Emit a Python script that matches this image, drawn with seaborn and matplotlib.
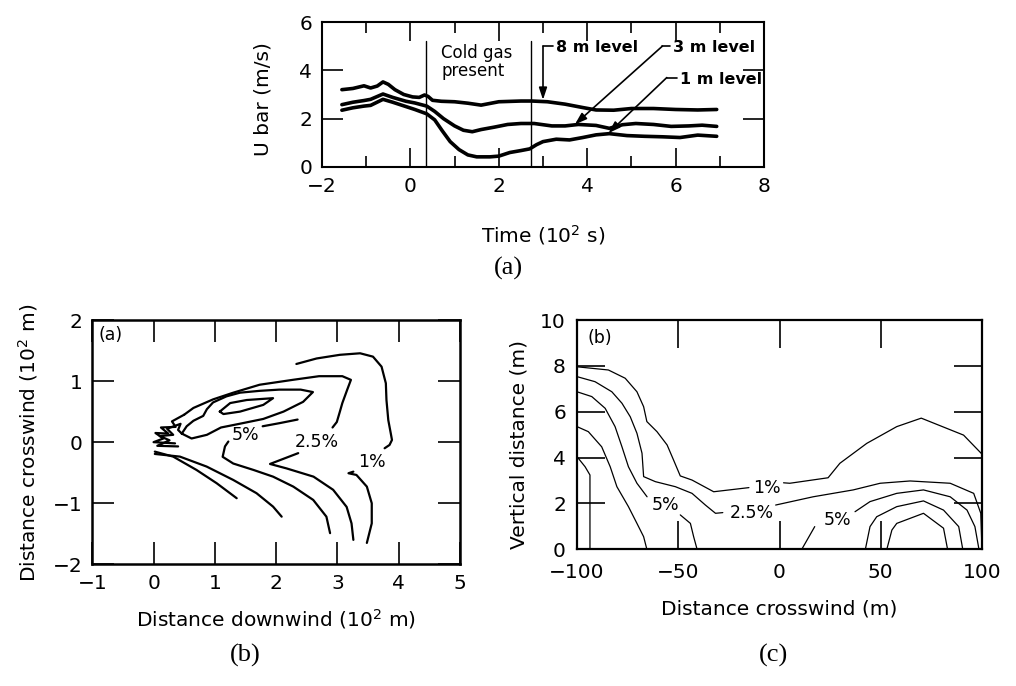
import numpy as np
import pandas as pd
import matplotlib
matplotlib.use("Agg")
import matplotlib.pyplot as plt
import seaborn as sns

# ---------------- data: panel (a) wind speed time series ----------------
t8 = [-1.55, -1.3, -1.05, -0.9, -0.75, -0.62, -0.5, -0.35, -0.15, 0.05, 0.2, 0.32, 0.4, 0.5, 0.7, 1.0,
      1.3, 1.6, 2.0, 2.5, 2.75, 3.1, 3.5, 3.9, 4.2, 4.6, 5.0, 5.5, 6.0, 6.5, 6.93]
u8 = [3.2, 3.25, 3.36, 3.27, 3.35, 3.52, 3.42, 3.2, 3.0, 2.9, 2.88, 2.98, 2.92, 2.76, 2.72, 2.7,
      2.64, 2.56, 2.7, 2.73, 2.73, 2.7, 2.6, 2.46, 2.36, 2.35, 2.42, 2.42, 2.38, 2.36, 2.38]
t3 = [-1.55, -1.3, -1.05, -0.9, -0.62, -0.4, -0.1, 0.1, 0.37, 0.55, 0.75, 1.0, 1.2, 1.4, 1.6, 1.9,
      2.2, 2.5, 2.8, 3.2, 3.5, 3.8, 4.2, 4.5, 4.8, 5.1, 5.5, 5.9, 6.3, 6.6, 6.93]
u3 = [2.58, 2.68, 2.75, 2.8, 3.02, 2.88, 2.72, 2.65, 2.52, 2.3, 2.0, 1.7, 1.52, 1.46, 1.55, 1.65,
      1.76, 1.8, 1.8, 1.7, 1.7, 1.76, 1.72, 1.6, 1.75, 1.8, 1.76, 1.68, 1.7, 1.73, 1.68]
t1 = [-1.55, -1.3, -1.05, -0.9, -0.62, -0.4, -0.1, 0.1, 0.37, 0.55, 0.72, 0.9, 1.1, 1.3, 1.5, 1.8,
      2.0, 2.25, 2.5, 2.7, 2.85, 3.0, 3.3, 3.6, 3.9, 4.2, 4.5, 4.9, 5.3, 5.7, 6.1, 6.5, 6.93]
u1 = [2.35, 2.45, 2.52, 2.55, 2.8, 2.68, 2.5, 2.38, 2.2, 1.95, 1.5, 1.05, 0.72, 0.5, 0.42, 0.42,
      0.45, 0.6, 0.68, 0.75, 0.92, 1.05, 1.15, 1.12, 1.22, 1.33, 1.38, 1.3, 1.27, 1.25, 1.22, 1.32, 1.27]
gas_start, gas_end, gas_top = 0.35, 2.72, 5.2
level_names = ["8 m level", "3 m level", "1 m level"]
level_text_xy = [(3.3, 4.75), (5.95, 4.75), (6.1, 3.45)]
level_hook = [(3.23, 3.0, 5.0), (5.87, 5.7, 5.0), (6.03, 5.8, 3.7)]
level_tip = [(3.0, 2.78), (3.72, 1.76), (4.48, 1.4)]

# ---------------- data: panel (b) plan-view concentration contours ----------------
plan = {
    "core": ([1.08, 1.25, 1.52, 1.95, 1.79, 1.41, 1.14, 1.08],
             [0.50, 0.64, 0.69, 0.72, 0.61, 0.50, 0.46, 0.50]),
    "loop5": ([0.46, 0.62, 0.87, 1.1, 1.4, 1.79, 2.12, 2.44, 2.6, 2.4, 2.05, 1.73, 1.41, 1.19, 0.97, 0.87,
               0.81, 0.65, 0.54, 0.46],
              [0.14, 0.06, 0.12, 0.24, 0.30, 0.38, 0.50, 0.66, 0.82, 0.86, 0.86, 0.84, 0.81, 0.75, 0.65, 0.54,
               0.43, 0.35, 0.26, 0.14]),
    "up25": ([0.5, 0.65, 0.97, 1.30, 1.73, 2.27, 2.70, 3.08, 3.22, 3.16, 3.08, 3.04, 2.99, 2.92],
             [0.45, 0.56, 0.70, 0.81, 0.94, 1.02, 1.08, 1.08, 1.02, 0.86, 0.64, 0.50, 0.33, 0.24]),
    "mid25": ([1.78, 2.05, 2.35], [0.26, 0.31, 0.37]),
    "up1": ([2.33, 2.66, 3.04, 3.37, 3.58, 3.72, 3.79, 3.80, 3.83, 3.87, 3.89, 3.85, 3.77],
            [1.28, 1.37, 1.43, 1.455, 1.40, 1.236, 0.964, 0.69, 0.36, 0.146, 0.036, -0.046, -0.10]),
    "low5": ([1.22, 1.165, 1.127, 1.30, 1.63, 1.95, 2.28, 2.605, 2.82, 2.88],
             [0.01, -0.07, -0.24, -0.35, -0.455, -0.565, -0.728, -0.946, -1.22, -1.49]),
    "low25": ([2.36, 1.90, 2.17, 2.61, 2.93, 3.15, 3.23, 3.26],
              [-0.18, -0.357, -0.43, -0.565, -0.78, -1.06, -1.33, -1.60]),
    "low1": ([3.26, 3.18, 3.31, 3.48, 3.56, 3.56, 3.48],
             [-0.483, -0.509, -0.537, -0.728, -1.0, -1.33, -1.65]),
    "edge_a": ([0.02, 0.32, 0.70, 1.03, 1.356], [-0.155, -0.237, -0.455, -0.673, -0.918]),
    "edge_b": ([0.02, 0.43, 0.866, 1.30, 1.68, 1.95, 2.09], [-0.193, -0.237, -0.40, -0.619, -0.836, -1.056, -1.22]),
    "zig1": ([0.5, 0.3, 0.36, 0.12, 0.24, 0.03, 0.16, 0.0, 0.35],
             [0.45, 0.34, 0.25, 0.24, 0.14, 0.15, 0.06, 0.0, -0.02]),
    "zig2": ([0.46, 0.4, 0.44, 0.22, 0.32, 0.1, 0.26, 0.06, 0.4],
             [0.14, 0.2, 0.3, 0.22, 0.12, 0.1, 0.03, -0.06, -0.07]),
}
plan_labels = ["5%", "2.5%", "1%"]
plan_label_xy = [(1.5, 0.12), (2.66, 0.01), (3.56, -0.32)]

# ---------------- data: panel (c) vertical cross-section contours ----------------
section = {
    "c1_left": ([-100, -84.5, -76.2, -70.4, -67.1, -65.5, -60.5, -55.5, -52.3, -49, -43.2, -32.5, -15.1],
                [7.96, 7.82, 7.46, 6.87, 6.22, 5.57, 5.13, 4.55, 3.89, 3.2, 3.02, 2.51, 2.69]),
    "c1_right": ([2, 5.1, 24.0, 29.8, 43.1, 57.9, 70, 90.9, 100],
                 [2.9, 2.88, 3.12, 3.75, 4.62, 5.35, 5.72, 4.98, 4.15]),
    "c25_left": ([-100, -91.1, -82.8, -77.8, -73.7, -70.4, -67.9, -67.1, -61.3, -51.4, -43.2, -36.6, -31.6, -28],
                 [7.53, 7.31, 6.87, 6.37, 5.78, 5.06, 4.19, 3.17, 2.95, 2.73, 2.44, 1.93, 1.57, 1.6]),
    "c25_right": ([-1.9, 16.6, 36.4, 49.7, 64.5, 84.3, 95.9, 99.4, 100],
                  [1.93, 2.29, 2.59, 2.88, 2.98, 2.88, 2.44, 1.57, 0.0]),
    "c5_left": ([-100, -92.7, -86.1, -81.2, -77.8, -74.6, -70.4, -65.4],
                [6.87, 6.66, 6.15, 5.35, 4.47, 3.6, 2.88, 2.29]),
    "c5_left_b": ([-49, -44, -42.4, -40.7], [1.5, 1.13, 0.55, 0.0]),
    "c5_right_a": ([11, 17.4], [0.0, 0.99]),
    "c5_right_b": ([37.3, 44.7, 57.9, 71.1, 84.3, 92.6, 96.5, 98.5],
                   [1.64, 2.08, 2.44, 2.59, 2.29, 1.71, 0.99, 0.0]),
    "c7_left": ([-100, -94.4, -87.8, -83.6, -80.3, -74.6, -70.4, -67.1, -65.5],
                [5.35, 5.13, 4.47, 3.6, 2.73, 1.86, 1.13, 0.55, 0.0]),
    "c7_right": ([42.4, 44.7, 48, 57.9, 71.1, 81, 88.5, 90.5],
                 [0.0, 0.99, 1.42, 1.86, 2.11, 1.71, 0.99, 0.0]),
    "c10_left": ([-100, -96, -93.6, -93.6], [4.04, 3.6, 3.24, 0.0]),
    "c10_right": ([53, 55.5, 57.9, 71.1, 81, 83], [0.0, 0.84, 1.13, 1.57, 0.92, 0.0]),
}
section_labels = ["1%", "2.5%", "5%", "5%"]
section_label_xy = [(-6.3, 2.66), (-13.9, 1.6), (-56.3, 1.93), (28.4, 1.28)]

# ---------------- styling ----------------
sns.set_theme(style="ticks")
plt.rcParams["font.family"] = ["DejaVu Sans"]
plt.rcParams["mathtext.default"] = "regular"
plt.rcParams["text.color"] = "black"
plt.rcParams["axes.labelcolor"] = "black"
plt.rcParams["xtick.color"] = "black"
plt.rcParams["ytick.color"] = "black"
TFS = 14.5   # tick labels
LFS = 14.5   # axis labels
IFS = 12.5   # in-panel labels

fig = plt.figure(figsize=(10.16, 6.86), dpi=100)
fig.patch.set_facecolor("white")


def style_axes(ax, major_len, minor_len=0, lw=1.5):
    for s in ax.spines.values():
        s.set_linewidth(lw)
        s.set_color("black")
    ax.set_facecolor("white")
    ax.tick_params(which="major", direction="in", top=True, right=True, length=major_len,
                   width=1.2, labelsize=TFS, pad=7, colors="black")
    ax.tick_params(which="minor", direction="in", top=True, right=True, length=minor_len, width=1.2)


def draw(ax, xs, ys, lw, color="black"):
    df = pd.DataFrame({"x": xs, "y": ys})
    sns.lineplot(data=df, x="x", y="y", sort=False, estimator=None, ax=ax,
                 color=color, linewidth=lw)


# ---------------- panel (a) ----------------
axa = fig.add_axes([322 / 1016, 1 - 167 / 686, 442 / 1016, 145 / 686])
for tt, uu in [(t8, u8), (t3, u3), (t1, u1)]:
    draw(axa, tt, uu, 2.6)
for xv in [gas_start, gas_end]:
    axa.plot([xv, xv], [0, gas_top], color="black", lw=1.0)
axa.set_xlim(-2, 8)
axa.set_ylim(0, 6)
axa.set_xticks([-2, 0, 2, 4, 6, 8])
axa.set_xticks([-1, 1, 3, 5, 7], minor=True)
axa.set_yticks([0, 2, 4, 6])
style_axes(axa, 14, 8)
axa.tick_params(axis="y", which="major", length=15)
axa.text(0.7, 5.1, "Cold gas\npresent", fontsize=12, ha="left", va="top", linespacing=1.0)
for name, (tx, ty), (hx0, hx1, hy), (px, py) in zip(level_names, level_text_xy, level_hook, level_tip):
    axa.text(tx, ty, name, fontsize=11.5, fontweight="bold", ha="left", va="baseline")
    axa.plot([hx0, hx1], [hy, hy], color="black", lw=1.2)
    axa.annotate("", xy=(px, py), xytext=(hx1, hy),
                 arrowprops=dict(arrowstyle="-|>,head_length=0.6,head_width=0.2",
                                 color="black", lw=1.2, shrinkA=0, shrinkB=0))
axa.set_xlabel("Time (10$^2$ s)", fontsize=LFS)
axa.set_ylabel("U bar (m/s)", fontsize=LFS)
axa.xaxis.set_label_coords(0.5, -0.385)
axa.yaxis.set_label_coords(-0.113, 0.47)

# ---------------- panel (b) ----------------
axb = fig.add_axes([92.3 / 1016, 1 - 564.3 / 686, 367.7 / 1016, 244.3 / 686])
for key, (xs, ys) in plan.items():
    draw(axb, xs, ys, 1.6)
axb.set_xlim(-1, 5)
axb.set_ylim(-2, 2)
axb.set_xticks(range(-1, 6))
axb.set_yticks(range(-2, 3))
style_axes(axb, 16, 0, lw=1.8)
for lab, (lx, ly) in zip(plan_labels, plan_label_xy):
    axb.text(lx, ly, lab, fontsize=IFS, ha="center", va="center")
axb.text(0.016, 0.975, "(a)", transform=axb.transAxes, fontsize=IFS, ha="left", va="top")
axb.set_xlabel("Distance downwind (10$^2$ m)", fontsize=LFS)
axb.set_ylabel("Distance crosswind (10$^2$ m)", fontsize=LFS)
axb.xaxis.set_label_coords(0.5, -0.175)
axb.yaxis.set_label_coords(-0.143, 0.497)

# ---------------- panel (c) ----------------
axc = fig.add_axes([577 / 1016, 1 - 549.3 / 686, 405 / 1016, 229.3 / 686])
for key, (xs, ys) in section.items():
    draw(axc, xs, ys, 0.9)
axc.set_xlim(-100, 100)
axc.set_ylim(0, 10)
axc.set_xticks([-100, -50, 0, 50, 100])
axc.set_yticks([0, 2, 4, 6, 8, 10])
style_axes(axc, 20, 0, lw=1.6)
axc.tick_params(axis="x", pad=10)
axc.tick_params(axis="y", pad=8)
for lab, (lx, ly) in zip(section_labels, section_label_xy):
    axc.text(lx, ly, lab, fontsize=IFS, ha="center", va="center")
axc.text(0.027, 0.96, "(b)", transform=axc.transAxes, fontsize=IFS, ha="left", va="top")
axc.set_xlabel("Distance crosswind (m)", fontsize=LFS)
axc.set_ylabel("Vertical distance (m)", fontsize=LFS)
axc.xaxis.set_label_coords(0.5, -0.22)
axc.yaxis.set_label_coords(-0.12, 0.455)

# ---------------- figure captions ----------------
cap = dict(fontsize=19, family=["Liberation Serif", "DejaVu Serif"], ha="center", va="center")
fig.text(508 / 1016, 1 - 268 / 686, "(a)", **cap)
fig.text(245 / 1016, 1 - 655 / 686, "(b)", **cap)
fig.text(773 / 1016, 1 - 655 / 686, "(c)", **cap)

fig.savefig("out.png", dpi=100, facecolor="white")
